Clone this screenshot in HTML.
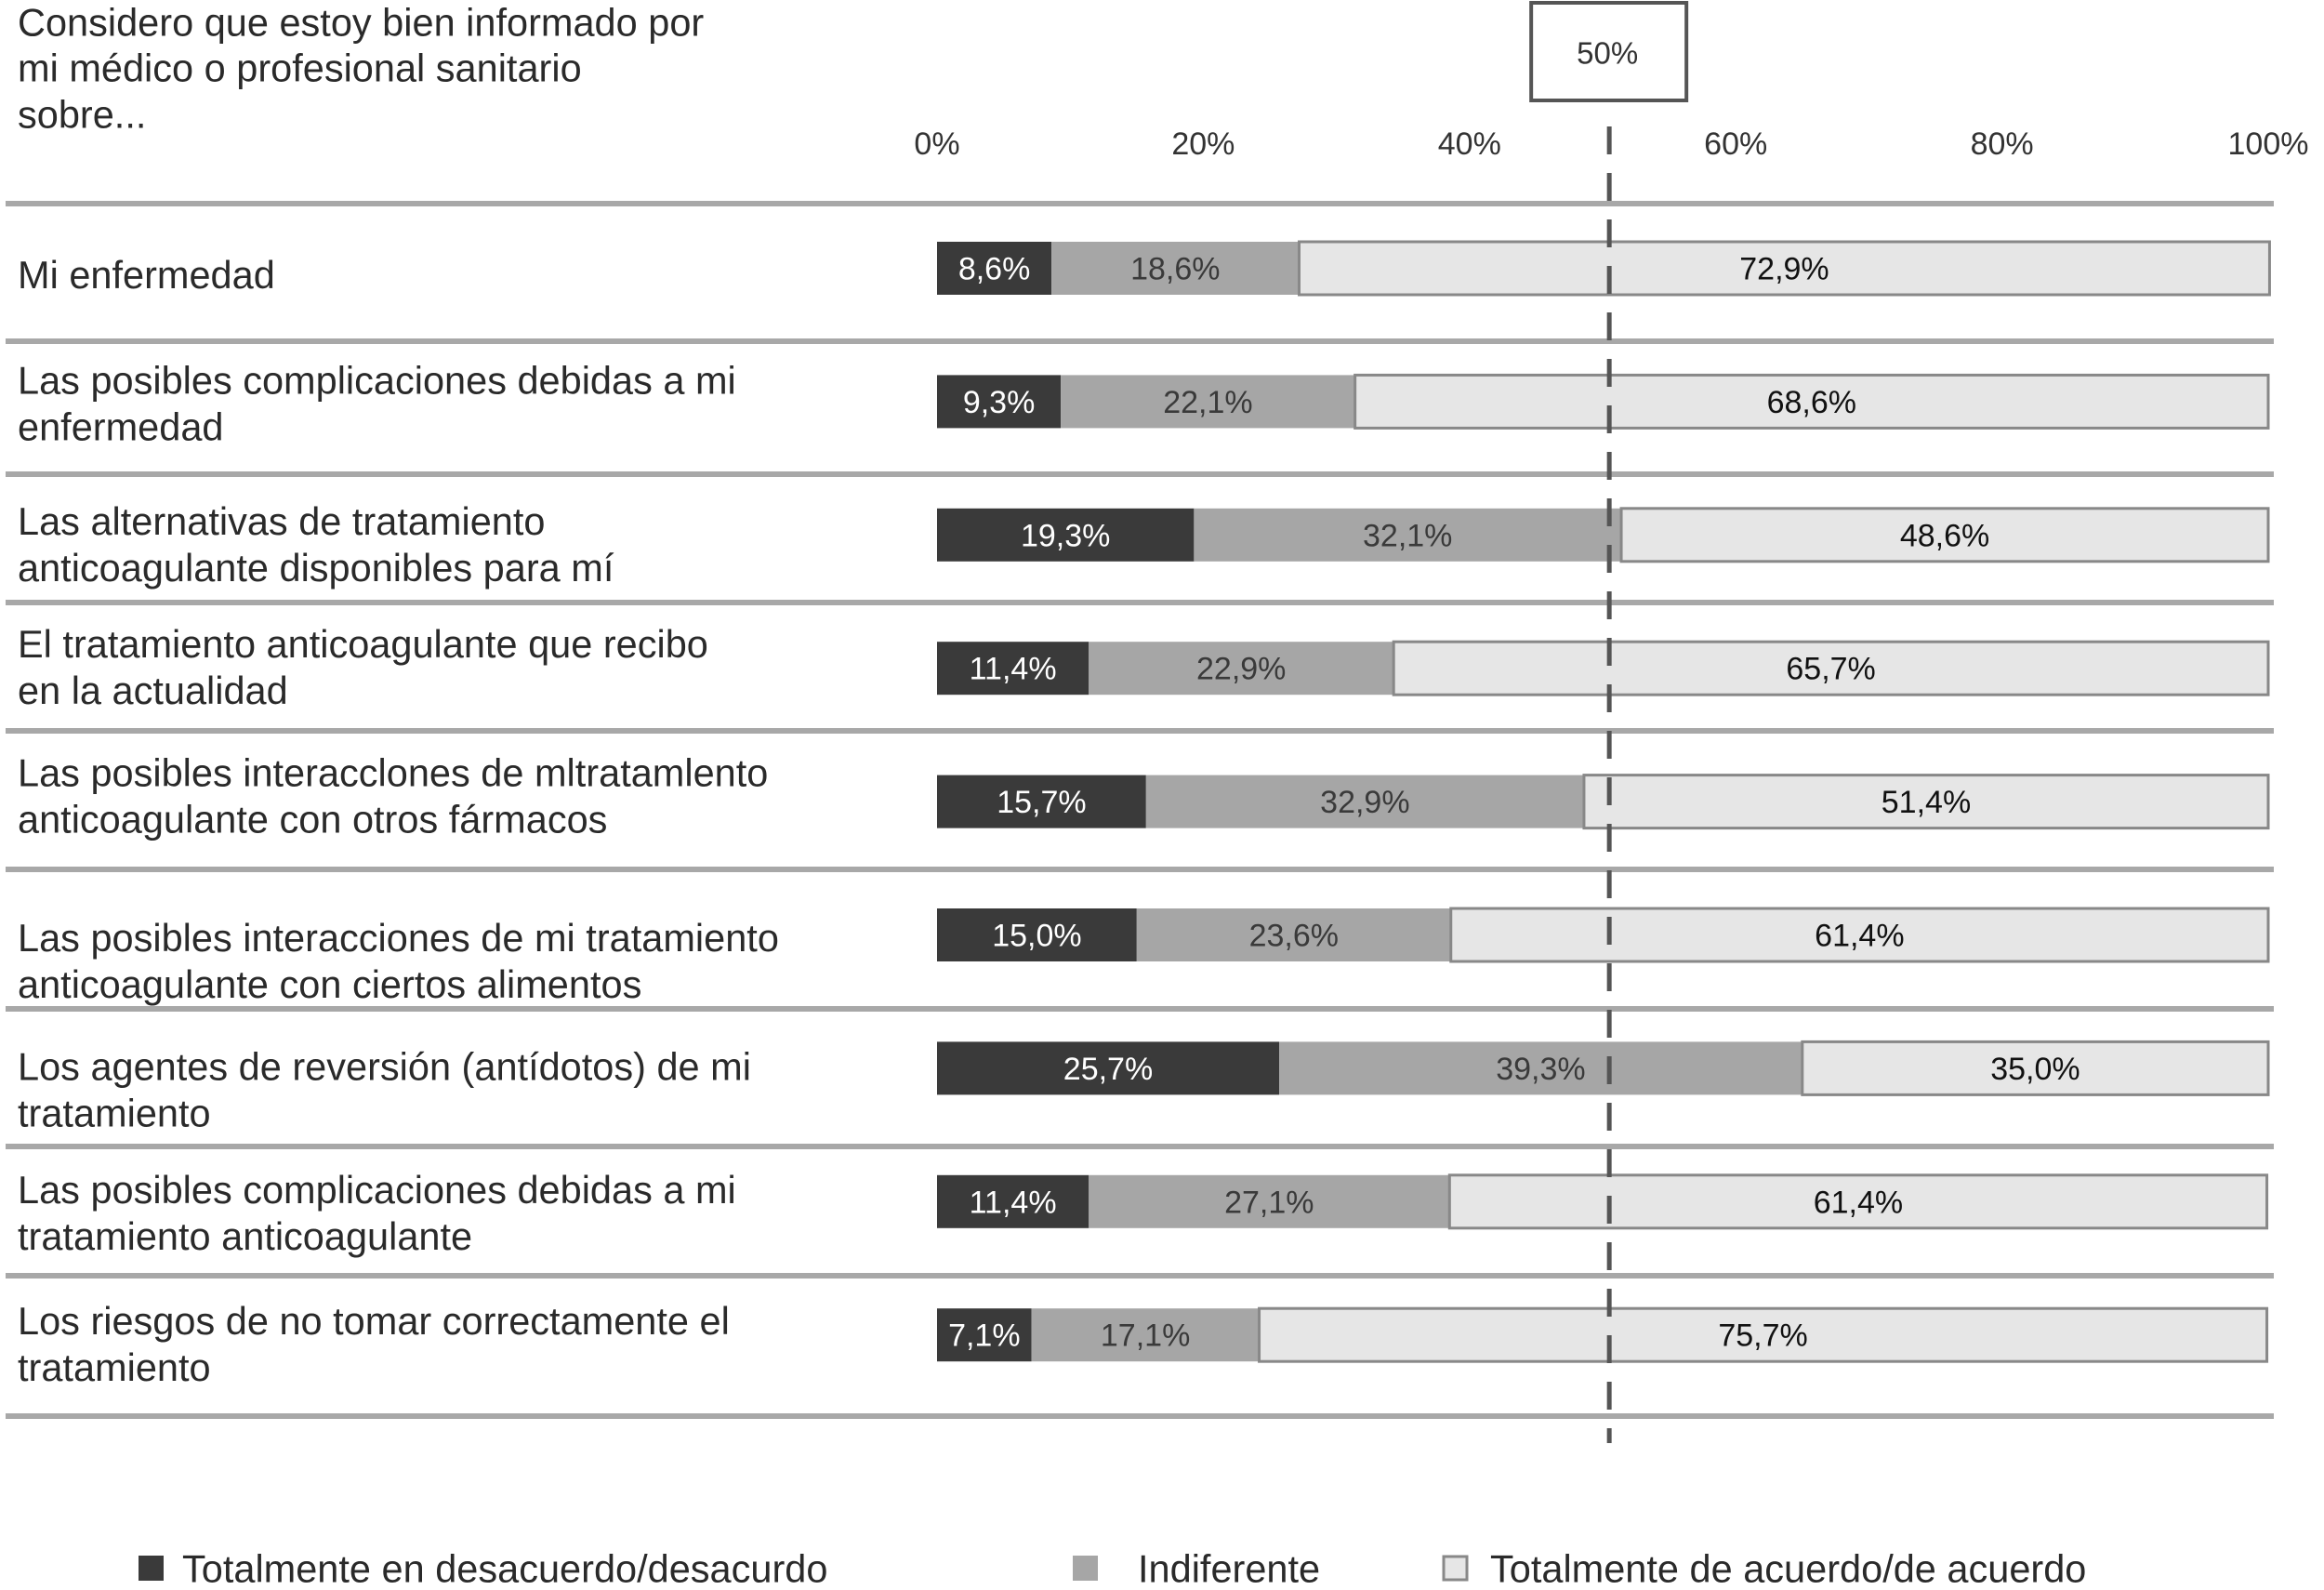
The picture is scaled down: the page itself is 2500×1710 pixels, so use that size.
<!DOCTYPE html>
<html><head><meta charset="utf-8"><style>
html,body{margin:0;padding:0;background:#fff;}
svg{display:block;font-family:"Liberation Sans",Arial,sans-serif;}
</style></head><body>
<svg id="chart" width="2500" height="1710" viewBox="0 0 2500 1710" xmlns="http://www.w3.org/2000/svg">
<g fill="#2a2a2a" font-size="41.5">
<text x="19" y="24" dominant-baseline="central">Considero que estoy bien informado por</text>
<text x="19" y="73" dominant-baseline="central">mi médico o profesional sanitario</text>
<text x="19" y="123" dominant-baseline="central">sobre...</text>
</g>
<g id="layer-sep"></g>
<g id="layer-ticks"></g>
<g id="layer-bars"></g>
<g id="layer-labels"></g>
<line id="refline" y1="136" y2="1552" stroke="#555" stroke-width="5" stroke-dasharray="30 20"/>
<g>
<rect id="refbox" y="3" width="167" height="105" fill="#fff" stroke="#555" stroke-width="4"/>
<text id="reftext" y="57" font-size="33" fill="#333" text-anchor="middle" dominant-baseline="central">50%</text>
</g>
<g font-size="41.5" fill="#2a2a2a">
<g>
<rect x="149" y="1673" width="27" height="27" fill="#3a3a3a"/>
<text x="196" y="1687" dominant-baseline="central">Totalmente en desacuerdo/desacurdo</text></g>
<g>
<rect x="1154" y="1673" width="27" height="27" fill="#a6a6a6"/>
<text x="1224" y="1687" dominant-baseline="central">Indiferente</text></g>
<g>
<rect x="1553" y="1674" width="25" height="25" fill="#e6e6e6" stroke="#888" stroke-width="3"/>
<text x="1603" y="1687" dominant-baseline="central">Totalmente de acuerdo/de acuerdo</text></g>
</g>
</svg>
<script>
const categories = [
 ["Mi enfermedad"],
 ["Las posibles complicaciones debidas a mi","enfermedad"],
 ["Las alternativas de tratamiento","anticoagulante disponibles para mí"],
 ["El tratamiento anticoagulante que recibo","en la actualidad"],
 ["Las posibles interacclones de mltratamlento","anticoagulante con otros fármacos"],
 ["Las posibles interacciones de mi tratamiento","anticoagulante con ciertos alimentos"],
 ["Los agentes de reversión (antídotos) de mi","tratamiento"],
 ["Las posibles complicaciones debidas a mi","tratamiento anticoagulante"],
 ["Los riesgos de no tomar correctamente el","tratamiento"]
];
const desacuerdo = [8.6, 9.3, 19.3, 11.4, 15.7, 15.0, 25.7, 11.4, 7.1];
const indiferente = [18.6, 22.1, 32.1, 22.9, 32.9, 23.6, 39.3, 27.1, 17.1];
const acuerdo = [72.9, 68.6, 48.6, 65.7, 51.4, 61.4, 35.0, 61.4, 75.7];
const tickValues = [0, 20, 40, 60, 80, 100];
const tickLabels = ["0%", "20%", "40%", "60%", "80%", "100%"];
const referenceValue = 50.5;

const NS = "http://www.w3.org/2000/svg";
const X0 = 1008, X1 = 2440;
function xScale(v){ return X0 + (X1 - X0) * v / 100; }
const barTop0 = 260, barStep = 143.4, barH = 57;
function yBand(i){ return barTop0 + i * barStep; }
function mk(tag, attrs, parent){ const e = document.createElementNS(NS, tag); for (const k in attrs) e.setAttribute(k, attrs[k]); parent.appendChild(e); return e; }
function fmt(v){ return v.toFixed(1).replace('.', ',') + '%'; }

const sepY = [219, 367, 510, 648, 786, 935, 1085, 1233, 1372, 1523];
const labelOffsets = [3, -2, 6, -5, -10, 24, 19, 8, 6];
const sepG = document.getElementById('layer-sep');
sepY.forEach(y => {
 const l = mk('line', {x1: 6, x2: 2446, y1: y, y2: y, stroke: '#a8a8a8', 'stroke-width': 6}, sepG);
 
 
});

const tickG = document.getElementById('layer-ticks');
tickValues.forEach((v, i) => {
 const t = mk('text', {x: xScale(v), y: 155, 'font-size': 34, fill: '#333', 'text-anchor': 'middle', 'dominant-baseline': 'central'}, tickG);
 
 
 t.textContent = tickLabels[i];
});

const rx = xScale(referenceValue);
document.getElementById('refline').setAttribute('x1', rx);
document.getElementById('refline').setAttribute('x2', rx);
document.getElementById('refbox').setAttribute('x', rx - 84);
document.getElementById('reftext').setAttribute('x', rx - 2);

const barsG = document.getElementById('layer-bars');
const labG = document.getElementById('layer-labels');
const seriesList = [
 {vals: desacuerdo, fill: '#3a3a3a', text: '#fff', stroke: 'none', name: 'desacuerdo'},
 {vals: indiferente, fill: '#a6a6a6', text: '#3a3a3a', stroke: 'none', name: 'indiferente'},
 {vals: acuerdo, fill: '#e6e6e6', text: '#111', stroke: '#888', name: 'acuerdo'}
];
categories.forEach((lines, i) => {
 const top = yBand(i), cy = top + barH / 2;
 let cum = 0;
 seriesList.forEach(s => {
  const v = s.vals[i];
  const xa = xScale(cum), xb = xScale(cum + v);
  const r = mk('rect', {x: xa, y: top, width: Math.max(0, xb - xa), height: barH, fill: s.fill}, barsG);
  if (s.stroke !== 'none') { r.setAttribute('stroke', s.stroke); r.setAttribute('stroke-width', 3); }
  
  
  const t = mk('text', {x: (xa + xb) / 2, y: cy + 1, 'font-size': 34, fill: s.text, 'text-anchor': 'middle', 'dominant-baseline': 'central'}, barsG);
  
  
  t.textContent = fmt(v);
  cum += v;
 });
 const lineH = 50;
 const startY = cy - (lines.length - 1) * lineH / 2 + 4 + labelOffsets[i];
 lines.forEach((ln, j) => {
  const t = mk('text', {x: 19, y: startY + j * lineH, 'font-size': 41.5, fill: '#2a2a2a', 'dominant-baseline': 'central'}, labG);
  
  
  t.textContent = ln;
 });
});
</script>
</body></html>
